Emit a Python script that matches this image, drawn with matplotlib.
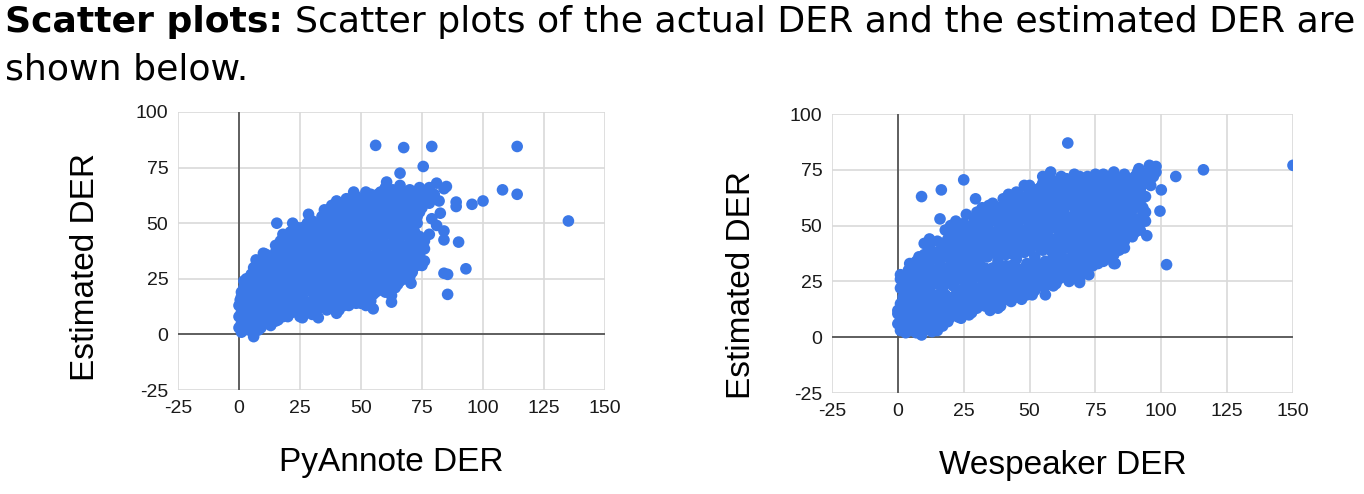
import matplotlib
matplotlib.use("Agg")
import matplotlib.pyplot as plt

plt.rcParams['axes.unicode_minus'] = False

###   DONNEES   ###

# PyAnnote : (DER reel, DER estime)
pyannote_pts = [
    (0,3),(1,5),(2,2),(3,4),(4,6),(5,3),(6,1),(7,4),(8,6),(9,3),(11,5),(13,4),(15,6),(6,-1),
    (0,8),(1,10),(2,7),(3,9),(4,11),(5,8),(6,10),(7,12),(8,9),(10,11),(12,8),(14,10),(16,9),
    (18,11),(20,8),(22,10),(25,8),(28,11),(30,9),
    (0,13),(1,15),(2,12),(3,14),(4,16),(5,13),(6,15),(7,17),(8,14),(9,16),(10,13),(11,18),
    (12,15),(14,17),(15,13),(17,16),(19,14),(21,17),(23,13),(25,16),(27,13),(30,15),(33,12),
    (35,14),(38,13),(41,11),(45,13),(48,14),(52,13),
    (1,19),(2,21),(3,18),(4,20),(5,23),(6,19),(7,22),(8,20),(9,24),(10,21),(12,19),(13,23),
    (14,21),(16,24),(18,20),(20,22),(22,19),(24,23),(26,20),(28,24),(30,19),(32,22),(34,18),
    (36,21),(38,17),(40,20),(42,16),(44,19),(46,17),(48,20),(50,16),(55,18),(58,20),
    (3,25),(5,27),(7,26),(9,29),(10,25),(11,28),(13,26),(15,30),(16,27),(18,29),(19,25),
    (21,28),(23,31),(25,27),(27,30),(28,26),(30,29),(32,25),(34,28),(36,31),(38,26),(40,29),
    (42,25),(44,28),(46,24),(48,27),(50,23),(52,26),(54,24),(56,28),(58,25),(60,27),(62,24),
    (65,27),(68,25),
    (8,32),(10,34),(12,31),(14,33),(16,35),(18,32),(20,34),(22,36),(24,33),(26,35),(28,37),
    (30,33),(32,36),(34,38),(36,34),(38,37),(40,33),(42,36),(44,39),(46,35),(48,38),(50,34),
    (52,37),(54,33),(56,36),(58,39),(60,35),(62,38),(64,34),(66,37),(68,33),(70,36),(72,38),
    (74,36),
    (15,40),(17,42),(20,39),(22,43),(25,41),(27,44),(30,40),(32,43),(35,45),(37,41),(40,44),
    (42,46),(44,42),(46,45),(48,47),(50,43),(52,46),(54,48),(56,44),(58,47),(60,49),(62,45),
    (64,48),(66,44),(68,47),(70,43),(72,46),
    (22,50),(26,48),(30,51),(33,49),(36,52),(38,48),(40,51),(42,54),(44,50),(46,53),(48,55),
    (50,51),(52,54),(54,56),(56,52),(58,55),(60,57),(62,53),(64,56),(66,58),(68,54),(70,57),
    (72,52),(74,55),
    (35,56),(38,58),(40,60),(42,57),(44,61),(46,58),(50,60),(52,58),(55,61),(58,59),(60,62),
    (63,60),(65,63),(67,60),(69,62),(71,59),(73,61),(75,58),(77,62),
    (52,64),(57,63),(60,66),(63,65),(66,67),(68,64),(70,65),(74,66),(76,64),(78,66),(80,63),
    # entre les rangees
    (1,1),(3,6.5),(5,5.5),(7,8),(9,7.5),(11,9.5),(13,7),(15,11),(17,13),(19,9),(21,12),
    (23,11),(24,14),(26,10),(27,15),(29,12),(31,12),(33,16),(36,11),(37,15),(40,14),(43,13),
    (46,15),(50,14),(54,15),
    (1,17),(3,16),(5,17),(7,19),(9,18),(11,21),(13,19),(15,20),(17,22),(19,21),(21,20),
    (23,21),(25,22),(27,21),(29,22),(31,20),(33,20),(35,22),(37,19),(39,22),(41,19),(43,21),
    (45,22),(47,19),(49,22),(52,20),(56,22),(60,21),(62,22),
    (2,24),(4,25),(6,26),(8,27),(10,27),(12,28),(14,26),(15,24),(17,26),(20,26),(22,26),
    (24,26),(26,28),(29,28),(31,27),(33,27),(35,26),(37,27),(39,27),(41,27),(43,26),(45,26),
    (47,25),(49,25),(51,24),(53,22),(57,26),(61,25),(64,25),(66,29),
    (6,30),(8,29),(11,30),(13,29),(14,31),(17,30),(19,31),(21,31),(24,30),(26,32),(29,31),
    (31,31),(33,30),(35,32),(37,30),(39,31),(41,31),(43,30),(45,31),(47,31),(49,30),(51,30),
    (53,30),(55,31),(57,30),(59,31),(61,30),(63,30),(67,31),(69,30),
    (11,36),(13,35),(15,37),(17,38),(19,36),(21,38),(23,38),(25,37),(27,39),(29,38),(31,38),
    (33,40),(35,38),(37,39),(39,40),(41,38),(43,40),(45,40),(47,41),(49,40),(51,39),(53,41),
    (55,40),(57,41),(59,42),(61,40),(63,41),(65,40),(67,40),(69,39),(71,40),(73,41),
    (18,45),(21,46),(24,46),(26,43),(28,47),(31,46),(34,47),(36,48),(39,47),(41,48),(43,48),
    (45,49),(47,50),(49,49),(51,49),(53,50),(55,50),(57,51),(59,51),(61,51),(63,51),(65,51),
    (67,50),(69,50),(71,49),(73,50),
    (34,53),(37,54),(39,55),(41,56),(43,56),(45,56),(47,57),(49,57),(51,56),(53,57),(55,57),
    (57,57),(59,57),(61,59),(63,58),(65,55),(67,56),(69,59),(71,55),(73,57),(75,57),
    (48,62),(54,63),(56,60),(58,64),(61,63),(62,61),(64,61),(66,62),(68,60),(70,61),(72,63),
    (74,60),(76,60),(78,59),(80,62),(82,60),
    # remplissage
    (2,4.5),(4,2),(6,6.5),(8,2),(10,8),(12,11),(14,13),(16,6.5),(18,8),(20,15),(22,14),
    (24,11),(26,17),(28,14),(30,12),(32,18),(34,15),(36,17),(38,20),(40,17),(42,19),(44,15),
    (46,20),(48,17),(50,19),(52,17),(54,21),(56,19),(58,23),(60,19),(64,21),
    (3,22),(5,20),(7,23),(9,21),(11,24),(13,22),(15,22),(17,24),(19,23),(21,25),(23,24),
    (25,25),(27,24),(29,25),(31,24),(33,25),(35,24),(37,24),(39,24),(41,23),(43,23),(45,24),
    (47,22),(49,23),(51,21),(53,25),(55,23),(57,23),(59,23),(61,23),(63,26),(66,24),(68,28),
    (70,26),
    (9,33),(11,33),(13,32),(15,33),(17,34),(19,33),(21,33),(23,34),(25,34),(27,33),(29,35),
    (31,34),(33,34),(35,35),(37,35),(39,35),(41,35),(43,33),(45,34),(47,33),(49,33),(51,32),
    (53,35),(55,34),(57,33),(59,33),(61,32),(63,33),(65,33),(67,34),(69,34),(71,33),(73,34),
    (75,31),
    (16,38),(18,40),(20,42),(22,40),(24,39),(26,41),(28,42),(30,43),(32,41),(34,42),(36,43),
    (38,43),(40,42),(42,43),(44,45),(46,43),(48,44),(50,46),(52,43),(54,44),(56,47),(58,45),
    (60,45),(62,47),(64,46),(66,46),(68,45),(70,46),(72,43),(74,44),(76,42),
    (24,48),(28,50),(32,49),(35,50),(37,50),(39,50),(41,51),(43,52),(45,52),(47,53),(49,53),
    (51,53),(53,52),(55,53),(57,54),(59,54),(61,55),(63,54),(65,53),(67,53),(69,52),(71,52),
    (73,53),
    (38,56),(42,59),(44,58),(46,60),(48,60),(50,58),(52,60),(54,59),(56,58),(58,61),(60,60),
    (62,58),(64,58),(66,60),(68,58),(70,59),(72,58),(74,62),(76,62),(78,64),
    # points isoles
    (56,85),(67.5,84),(79,84.5),(114,84.5),(75.5,75.5),(108,65),(114,63),(135,51),(100,60),
    (95.5,58.5),(89,59.5),(89,57.5),(82.5,54.5),(84,65.5),(81,68),(85,66.5),(84,46.5),
    (84,42.5),(90,41.5),(93,29.5),(84,27.5),(85.5,27),(85.5,18),(76,33),(70.5,23),(65,22.5),
    (62.5,17.5),(62.5,14.5),(60.5,22),(55,11.5),(32.5,7.5),(40,9.5),(26,7.5),(15.5,50),
    (7,33.5),(10,36.5),(0.5,15.5),(47,64),(49,58.5),(28.5,54),(29,49.5),(28.5,47.5),
    (66,72.5),(60.5,68.5),(60,65.5),(79,52),(78,45),(76,38.5),(73,31),(71,28),(81,49),
]

# Wespeaker : (DER reel, DER estime)
wespeaker_pts = [
    (0,6),(1,9),(2,4),(3,7),(4,11),(5,3),(6,8),(7,2),(8,5),(9,9),(10,3),(11,7),(12,4),(14,6),
    (15,3),
    (0,12),(1,15),(2,18),(3,13),(4,16),(5,20),(6,14),(7,17),(8,12),(9,19),(10,15),(11,11),
    (12,18),(13,14),(15,10),(16,16),(17,12),(19,14),(20,9),(22,12),(24,10),(26,14),(28,11),
    (30,13),
    (1,22),(2,25),(3,21),(4,24),(5,27),(6,22),(7,25),(8,20),(9,28),(10,23),(11,26),(12,21),
    (13,29),(14,24),(15,19),(16,27),(17,22),(18,25),(19,18),(20,28),(21,23),(22,19),(23,26),
    (24,21),(25,17),(26,24),(27,20),(28,27),(29,16),(30,22),(32,19),(34,25),(35,16),(36,21),
    (38,18),(40,23),(42,20),(44,24),(46,21),(48,25),(50,22),(53,26),(56,23),(58,26),(60,24),
    (5,31),(7,34),(9,30),(10,37),(11,32),(12,40),(13,35),(14,30),(15,38),(16,33),(17,42),
    (18,36),(19,31),(20,39),(21,34),(22,43),(23,29),(24,37),(25,32),(26,40),(27,35),(28,30),
    (29,44),(30,38),(31,33),(32,41),(33,28),(34,36),(35,45),(36,31),(37,39),(38,34),(39,42),
    (40,29),(41,37),(42,46),(43,32),(44,40),(45,35),(46,30),(47,43),(48,38),(49,33),(50,47),
    (51,41),(52,36),(53,30),(54,44),(55,39),(56,34),(57,48),(58,42),(59,37),(60,31),(62,45),
    (63,40),(64,35),(66,43),(67,38),(68,32),(70,41),(72,36),(74,44),(76,39),(78,34),(80,42),
    (82,37),(84,45),
    (18,48),(20,45),(22,52),(24,47),(26,55),(28,50),(30,46),(32,53),(34,49),(36,56),(38,51),
    (40,58),(42,54),(44,50),(46,61),(48,56),(50,52),(52,59),(54,55),(56,62),(58,57),(60,52),
    (62,64),(64,59),(66,54),(68,66),(70,61),(72,56),(74,68),(76,63),(78,58),(80,70),(82,65),
    (84,60),(86,55),(88,50),(90,53),(92,48),(94,52),(86,66),(88,62),(90,68),(92,63),
    (45,65),(48,68),(52,66),(55,69),(58,71),(60,67),(62,72),(65,70),(67,73),(70,69),(72,72),
    (75,71),(78,73),(80,68),(82,74),(84,71),(86,73),(88,70),(90,72),(92,70),(94,73),(96,71),
    (98,74),
    (76,48),(78,45),(80,52),(82,49),(84,47),(86,43),(74,50),(72,47),(70,51),(68,49),(66,47),
    # entre les rangees
    (1,3),(3,2),(4,5),(6,4),(8,3),(10,6),(12,7),(13,5),(14,9),(16,8),(17,5),(18,10),(19,7),
    (21,11),(23,9),(25,12),(27,10),(29,13),(31,15),(33,14),(35,12),(37,15),(39,14),(41,17),
    (43,16),(45,18),(47,17),(49,19),(51,19),
    (2,10),(3,17),(5,14),(6,18),(7,10),(8,16),(10,11),(11,17),(13,17),(14,13),(15,15),
    (17,17),(18,13),(18,19),(20,16),(21,13),(22,16),(23,14),(24,18),(25,14),(27,16),(28,19),
    (29,15),(31,18),(33,17),(34,20),(36,17),(37,19),(39,18),(41,21),(43,19),(45,22),(47,20),
    (49,21),(51,24),(52,21),(54,23),(57,25),(59,23),(61,26),(63,27),(65,25),(67,28),(69,26),
    (71,29),
    (1,28),(3,27),(4,30),(6,28),(8,31),(10,29),(12,31),(13,25),(15,27),(17,29),(19,27),
    (20,32),(22,31),(24,29),(25,28),(27,32),(29,29),(31,29),(33,31),(35,30),(37,29),(39,30),
    (41,32),(43,29),(45,31),(47,27),(49,29),(51,28),(53,33),(55,28),(57,31),(59,29),(61,33),
    (62,29),(64,31),(66,31),(68,29),(70,33),(72,31),(74,32),(76,35),(78,38),(80,36),(82,33),
    (84,39),
    (10,42),(12,44),(14,38),(15,43),(17,38),(19,44),(21,41),(23,40),(24,44),(25,38),(27,42),
    (29,40),(30,41),(31,36),(33,39),(34,43),(36,41),(37,45),(39,37),(40,44),(42,40),(43,42),
    (45,43),(46,38),(47,48),(49,45),(50,41),(51,50),(53,45),(55,47),(57,45),(59,44),(61,48),
    (62,41),(64,44),(65,47),(67,45),(69,44),(71,45),(73,42),(75,45),(77,43),(79,47),(81,45),
    (83,42),(85,50),(87,47),(89,45),(91,50),(93,55),
    (20,50),(23,49),(25,51),(27,48),(29,53),(31,50),(33,56),(35,52),(37,54),(39,55),(41,52),
    (43,57),(45,56),(47,53),(49,59),(51,56),(53,53),(55,58),(57,54),(59,60),(61,57),(63,56),
    (65,61),(67,58),(69,56),(71,63),(73,60),(75,58),(77,61),(79,55),(81,57),(83,62),(85,58),
    (87,59),(89,57),(91,60),(93,58),
    (40,62),(42,64),(44,62),(46,64),(48,62),(50,65),(52,63),(54,64),(56,66),(58,64),(60,63),
    (62,67),(64,66),(66,65),(68,63),(70,65),(72,67),(74,65),(76,67),(78,66),(80,65),(82,68),
    (84,66),(86,69),(88,66),(90,64),(92,66),(94,69),(96,68),(97,72),
    # remplissage
    (3,10),(5,9),(7,13),(9,12),(11,14),(13,11),(15,13),(17,15),(19,11),(21,15),(23,17),
    (25,19),(27,22),(29,19),(31,21),(33,23),(35,20),(37,23),(39,21),(41,24),(43,22),(45,26),
    (47,24),(49,26),(51,26),(53,23),(55,25),(57,27),(59,28),(61,29),(63,30),(65,29),(67,31),
    (69,30),
    (2,22),(4,20),(6,25),(8,24),(10,26),(12,25),(14,27),(16,24),(18,28),(20,25),(22,27),
    (24,26),(26,29),(28,24),(30,27),(32,26),(34,28),(36,27),(38,27),(40,26),(42,28),(44,27),
    (46,28),(48,31),(50,30),(52,32),(54,31),(56,30),(58,33),(60,35),(62,33),(64,33),(66,35),
    (68,36),(70,35),(72,34),(74,37),(76,33),(78,37),(80,39),(82,41),(84,43),
    (8,36),(10,33),(12,35),(14,35),(16,37),(18,40),(20,36),(22,37),(24,34),(26,37),(28,38),
    (30,35),(32,37),(34,40),(36,38),(38,40),(40,38),(42,38),(44,37),(46,41),(48,41),(50,39),
    (52,42),(54,40),(56,41),(58,39),(60,40),(62,38),(64,41),(66,39),(68,41),(70,38),(72,40),
    (74,39),(76,42),(78,40),(80,45),(82,44),(84,41),(86,47),(88,48),(90,47),
    (22,47),(24,50),(26,45),(28,46),(30,49),(32,46),(34,46),(36,47),(38,46),(40,48),(42,49),
    (44,46),(46,47),(48,48),(50,50),(52,48),(54,50),(56,49),(58,50),(60,49),(62,50),(64,49),
    (66,50),(68,51),(70,48),(72,51),(74,47),(76,51),(78,50),(80,48),(82,52),(84,54),(86,51),
    (88,55),(90,58),(92,52),(94,56),
    (30,56),(32,58),(34,55),(36,60),(38,58),(40,55),(42,59),(44,57),(46,58),(48,59),(50,57),
    (52,56),(54,58),(56,57),(58,60),(60,58),(62,60),(64,62),(66,60),(68,61),(70,58),(72,61),
    (74,62),(76,60),(78,62),(80,61),(82,60),(84,64),(86,62),(88,64),(90,62),(92,61),(94,63),
    (50,68),(54,67),(56,70),(59,69),(61,70),(63,69),(66,68),(68,70),(71,67),(73,69),(76,69),
    (79,70),(81,71),(83,69),(85,68),(87,71),(89,68),(91,74),(93,71),(95,74),
    (30,43),(33,44),(36,44),(39,44),(42,44),(45,45),(48,44),(51,44),(54,42),(57,43),(60,43),
    (63,43),(66,41),(69,42),(72,43),(75,42),(78,42),
    (34,52),(37,53),(40,52),(43,53),(46,52),(49,53),(52,52),(55,52),(58,53),(61,54),(64,53),
    (67,52),(70,54),(73,54),(76,54),(79,52),(82,55),(85,55),(88,53),
    (41,60),(44,60),(47,61),(50,61),(53,61),(56,60),(59,62),(62,62),(65,63),(68,62),(71,61),
    (74,60),(77,64),(80,63),(83,59),(86,60),(89,60),
    (55,72),(58,74),(62,69),(64,71),(69,72),(72,70),(75,73),(77,71),(80,72),
    # points isoles
    (64.5,87),(150,77),(116,75),(105.5,72),(100,66),(99.5,56.5),(102,32.5),(94.5,45.5),
    (98,76.5),(95.5,77),(91.5,75.5),(25,70.5),(16.5,66),(9,63),(29.5,62),(34.5,59),(16,53),
    (21.5,50.5),(4.5,33),(1,26),(38,13),(24,8.5),(46.5,18.5),(56,19),(69,24.5),(72.5,28),
    (86,40),(82.5,33),(0,10.5),(9,1),(13,2.5),
]

categories = ["PyAnnote DER", "Wespeaker DER"]
ylabel = "Estimated DER"
ticks = [-25, 0, 25, 50, 75, 100, 125, 150]
yticks = [-25, 0, 25, 50, 75, 100]

bleu = "#3b78e7"

###   FIGURE   ###

fig = plt.figure(figsize=(13.64, 4.94), dpi=100)
rend = fig.canvas.get_renderer()

# titre en deux morceaux (gras + normal), taille ajustee a la largeur totale
titre_font = "DejaVu Sans"
t_gras = fig.text(5/1364, 1-22/494, "Scatter plots:", fontsize=26, fontweight="bold",
                  family=titre_font, va="center", ha="left")
t_norm = fig.text(0, 1-22/494, "Scatter plots of the actual DER and the estimated DER are",
                  fontsize=26, family=titre_font, va="center", ha="left")
total = (t_gras.get_window_extent(rend).width + 12 + t_norm.get_window_extent(rend).width)
taille = 26 * 1350 / total
t_norm.set_fontsize(taille)
t_gras.set_fontsize(taille)
fin_gras = t_gras.get_window_extent(rend).x1
t_norm.set_x((fin_gras + 12) / 1364)
fig.text(5/1364, 1-70/494, "shown below.", fontsize=taille, family=titre_font,
         va="center", ha="left")

positions = [
    [178/1364, (494-390)/494, 427/1364, 278/494],
    [832/1364, (494-393)/494, 461/1364, 279/494],
]
ylab_pos = [(85, 267), (742, 285)]
data = [pyannote_pts, wespeaker_pts]

for i in range(2):
    ax = fig.add_axes(positions[i])
    xs = [p[0] for p in data[i]]
    ys = [p[1] for p in data[i]]
    ax.set_xlim(-25, 150)
    ax.set_ylim(-25, 100)
    ax.set_xticks(ticks)
    ax.set_yticks(yticks)
    ax.grid(True, color="#d9d9d9", linewidth=1.2)
    ax.set_axisbelow(True)
    for s in ax.spines.values():
        s.set_visible(False)
    ax.axhline(0, color="#555555", linewidth=1.3, zorder=1)
    ax.axvline(0, color="#555555", linewidth=1.3, zorder=1)
    ax.scatter(xs, ys, s=70, color=bleu, edgecolors="none", zorder=3)
    ax.tick_params(length=0, labelsize=14, colors="#1a1a1a", pad=7)
    for lab in ax.get_xticklabels() + ax.get_yticklabels():
        lab.set_family("Liberation Sans")
    ax.set_xlabel(categories[i], fontsize=24, family="Liberation Sans", labelpad=22)
    fig.text(ylab_pos[i][0]/1364, 1 - ylab_pos[i][1]/494, ylabel, rotation=90, fontsize=24,
             family="Liberation Sans", va="center", ha="center")

fig.savefig("out.png", dpi=100)
